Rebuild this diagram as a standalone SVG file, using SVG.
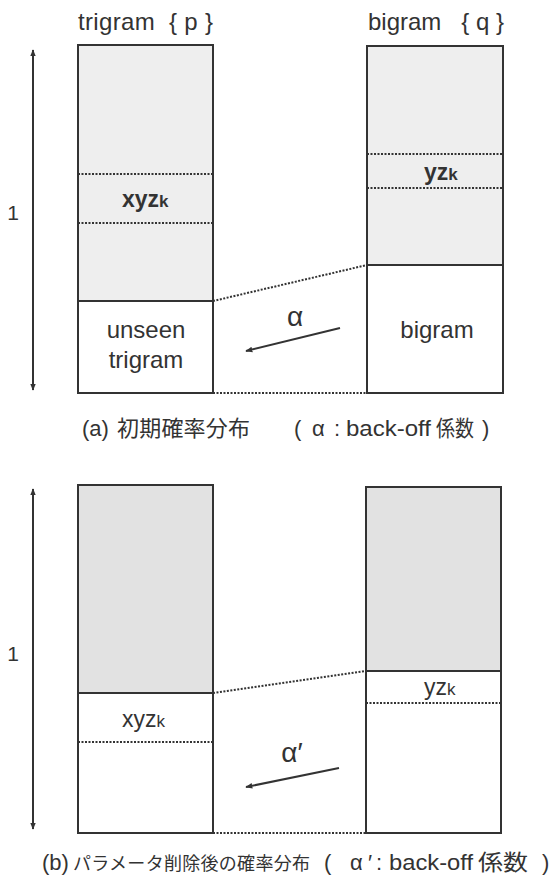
<svg xmlns="http://www.w3.org/2000/svg" width="554" height="882" viewBox="0 0 554 882">
<style>
text{font-family:"Liberation Sans","Noto Sans CJK JP",sans-serif;fill:#333}
.box{fill:none;stroke:#333;stroke-width:2}
.solid{stroke:#333;stroke-width:2;fill:none}
.dot{stroke:#333;stroke-width:2;stroke-dasharray:2 1.5;fill:none}
.shadeA{fill:#eeeeee}
.shadeB{fill:#e2e2e2}
.lbl{font-size:24px;text-anchor:middle}
.sub{font-size:23px}
.cap{font-size:22px}
</style>
<defs>
<marker id="ah" viewBox="0 0 10 10" refX="9" refY="5" markerWidth="7" markerHeight="7" orient="auto-start-reverse" markerUnits="userSpaceOnUse">
<path d="M0,1 L10,5 L0,9 z" fill="#333"/>
</marker>
</defs>
<text x="78" y="30" font-size="24" textLength="135" lengthAdjust="spacing" xml:space="preserve">trigram  { p }</text>
<text x="368" y="30" font-size="24" textLength="136" lengthAdjust="spacing" xml:space="preserve">bigram   { q }</text>

<g id="axisA">
<line class="solid" x1="33" y1="50" x2="33" y2="390" marker-start="url(#ah)" marker-end="url(#ah)"/>
<text x="13" y="220" font-size="21" text-anchor="middle">1</text>
</g>
<g id="trigramA">
<rect class="shadeA" x="78" y="45" width="135" height="256"/>
<rect class="box" x="78" y="45" width="135" height="348"/>
<line class="dot" x1="78" y1="174" x2="213" y2="174"/>
<line class="dot" x1="78" y1="223" x2="213" y2="223"/>
<line class="solid" x1="78" y1="301" x2="213" y2="301"/>
<text class="sub" x="122" y="207" font-weight="bold">xyz<tspan font-size="17">k</tspan></text>
<text class="lbl" x="146" y="338">unseen</text>
<text class="lbl" x="146" y="368">trigram</text>
</g>
<g id="bigramA">
<rect class="shadeA" x="367" y="46" width="136" height="219"/>
<rect class="box" x="367" y="46" width="136" height="347"/>
<line class="dot" x1="367" y1="154" x2="503" y2="154"/>
<line class="dot" x1="367" y1="188" x2="503" y2="188"/>
<line class="solid" x1="367" y1="265" x2="503" y2="265"/>
<text class="sub" x="424" y="180" font-weight="bold">yz<tspan font-size="17">k</tspan></text>
<text class="lbl" x="437" y="338">bigram</text>
</g>
<g id="connectorsA">
<line class="dot" x1="213" y1="301" x2="367" y2="265"/>
<line class="dot" x1="213" y1="393" x2="367" y2="393"/>
<line class="solid" x1="340" y1="328" x2="246" y2="351" marker-end="url(#ah)"/>
<text x="295" y="326" font-size="28" text-anchor="middle">α</text>
</g>
<text class="cap" y="436"><tspan x="82">(a)</tspan><tspan x="117" textLength="133" lengthAdjust="spacing">初期確率分布</tspan></text>
<text class="cap" y="436"><tspan x="294">(</tspan><tspan x="312">α</tspan><tspan x="334">:</tspan><tspan x="346" textLength="85" lengthAdjust="spacingAndGlyphs">back-off</tspan><tspan x="436" textLength="38" lengthAdjust="spacingAndGlyphs">係数</tspan><tspan x="482">)</tspan></text>

<g id="axisB">
<line class="solid" x1="33" y1="489" x2="33" y2="829" marker-start="url(#ah)" marker-end="url(#ah)"/>
<text x="13" y="661" font-size="21" text-anchor="middle">1</text>
</g>
<g id="trigramB">
<rect class="shadeB" x="78" y="485" width="135" height="208"/>
<rect class="box" x="78" y="485" width="135" height="348"/>
<line class="solid" x1="78" y1="693" x2="213" y2="693"/>
<line class="dot" x1="78" y1="742" x2="213" y2="742"/>
<text class="sub" x="122" y="727">xyz<tspan font-size="17">k</tspan></text>
</g>
<g id="bigramB">
<rect class="shadeB" x="366" y="487" width="135" height="184"/>
<rect class="box" x="366" y="487" width="135" height="346"/>
<line class="solid" x1="366" y1="671" x2="501" y2="671"/>
<line class="dot" x1="366" y1="703" x2="501" y2="703"/>
<text class="sub" x="424" y="695">yz<tspan font-size="17">k</tspan></text>
</g>
<g id="connectorsB">
<line class="dot" x1="213" y1="693" x2="366" y2="671"/>
<line class="dot" x1="213" y1="833" x2="366" y2="833"/>
<line class="solid" x1="339" y1="768" x2="246" y2="787" marker-end="url(#ah)"/>
<text x="292" y="762" font-size="28" text-anchor="middle">α′</text>
</g>
<text class="cap" y="870"><tspan x="42">(b)</tspan><tspan x="73" font-size="18" textLength="237" lengthAdjust="spacing">パラメータ削除後の確率分布</tspan></text>
<text class="cap" y="870"><tspan x="324">(</tspan><tspan x="350">α</tspan><tspan x="368">′</tspan><tspan x="376">:</tspan><tspan x="389" textLength="84" lengthAdjust="spacingAndGlyphs">back-off</tspan><tspan x="478" textLength="50" lengthAdjust="spacingAndGlyphs">係数</tspan><tspan x="542">)</tspan></text>
</svg>
